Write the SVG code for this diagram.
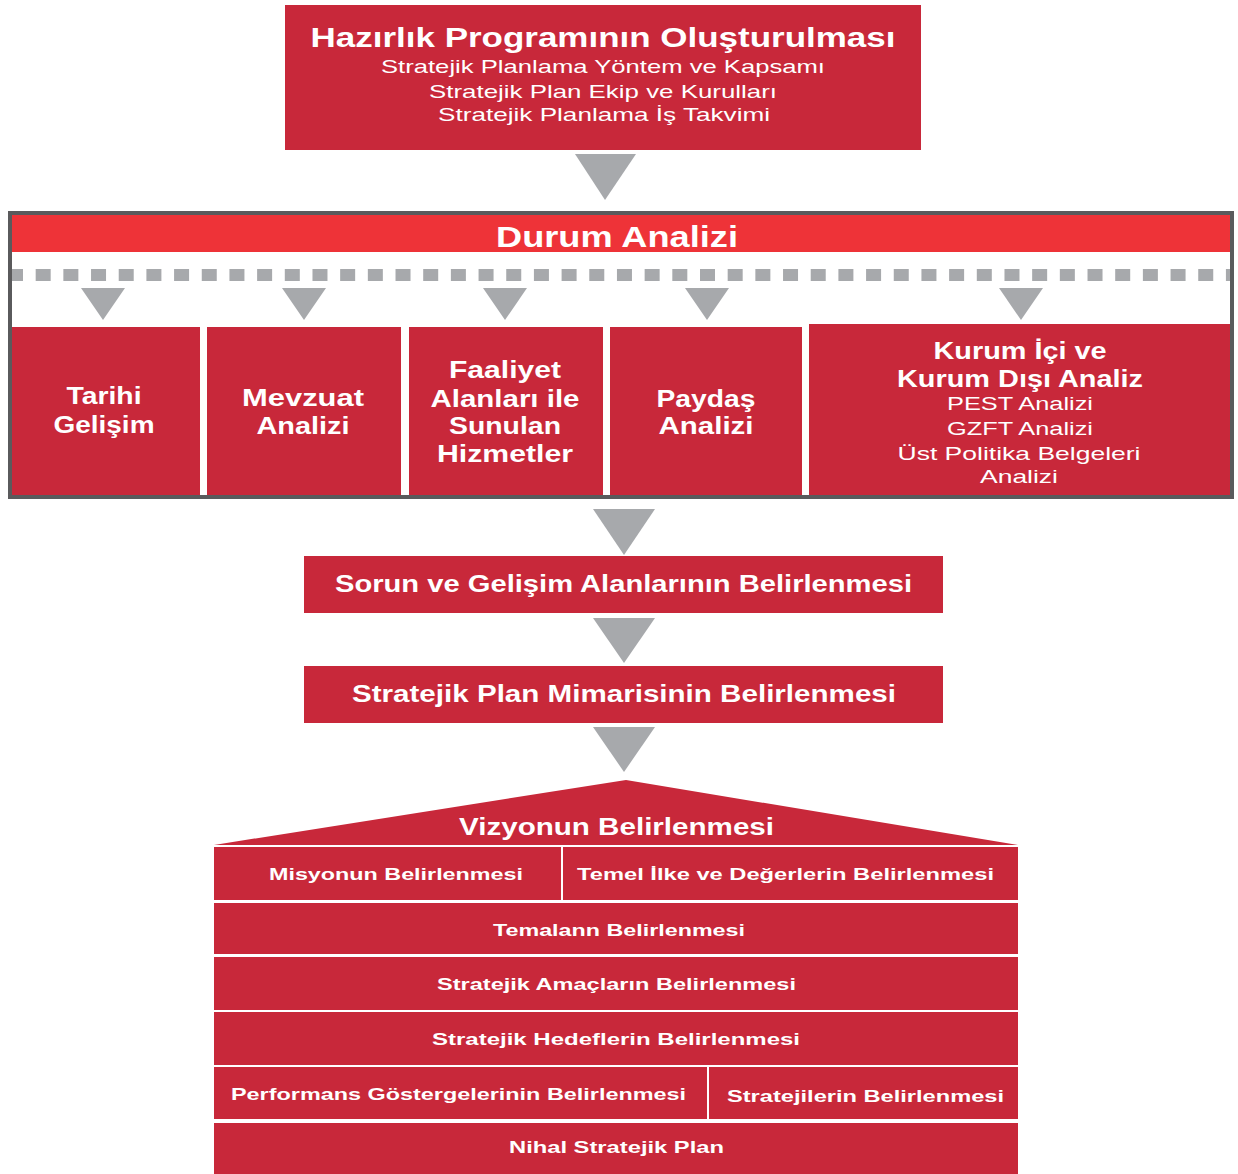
<svg xmlns="http://www.w3.org/2000/svg" width="1238" height="1174" viewBox="0 0 1238 1174">
<style>
.box{fill:#C8283A}
.hdr{fill:#EE3338}
.arr{fill:#A7A9AC}
text{fill:#ffffff;font-family:"Liberation Sans",Arial,sans-serif;text-anchor:middle}
.b{font-weight:bold}
.t27{font-size:27px}
.t29{font-size:29px}
.t24{font-size:24px}
.t23{font-size:23px}
.t19{font-size:19px}
.t17{font-size:17px}
</style>
<rect width="1238" height="1174" fill="#ffffff"/>

<g id="hazirlik">
<rect class="box" x="285" y="5" width="636" height="145"/>
<text class="b t27" x="603" y="47" textLength="585" lengthAdjust="spacingAndGlyphs">Hazırlık Programının Oluşturulması</text>
<text class="t19" x="603" y="73" textLength="444" lengthAdjust="spacingAndGlyphs">Stratejik Planlama Yöntem ve Kapsamı</text>
<text class="t19" x="603" y="98" textLength="348" lengthAdjust="spacingAndGlyphs">Stratejik Plan Ekip ve Kurulları</text>
<text class="t19" x="604" y="121" textLength="332" lengthAdjust="spacingAndGlyphs">Stratejik Planlama İş Takvimi</text>
</g>

<g id="durum-analizi">
<rect x="10" y="213" width="1222" height="284" fill="#ffffff" stroke="#5A5A5C" stroke-width="4"/>
<rect class="hdr" x="12" y="215" width="1218" height="37"/>
<text class="b t29" x="617" y="247" textLength="242" lengthAdjust="spacingAndGlyphs">Durum Analizi</text>
</g>

<g id="tarihi-gelisim">
<rect class="box" x="12" y="327" width="188" height="168"/>
<text class="b t24" x="104" y="404" textLength="75" lengthAdjust="spacingAndGlyphs">Tarihi</text>
<text class="b t24" x="104" y="433" textLength="101" lengthAdjust="spacingAndGlyphs">Gelişim</text>
</g>

<g id="mevzuat-analizi">
<rect class="box" x="207" y="327" width="194" height="168"/>
<text class="b t24" x="303" y="406" textLength="122" lengthAdjust="spacingAndGlyphs">Mevzuat</text>
<text class="b t24" x="303" y="434" textLength="93" lengthAdjust="spacingAndGlyphs">Analizi</text>
</g>

<g id="faaliyet-alanlari">
<rect class="box" x="409" y="327" width="194" height="168"/>
<text class="b t24" x="505" y="378" textLength="112" lengthAdjust="spacingAndGlyphs">Faaliyet</text>
<text class="b t24" x="505" y="407" textLength="149" lengthAdjust="spacingAndGlyphs">Alanları ile</text>
<text class="b t24" x="505" y="434" textLength="112" lengthAdjust="spacingAndGlyphs">Sunulan</text>
<text class="b t24" x="505" y="462" textLength="136" lengthAdjust="spacingAndGlyphs">Hizmetler</text>
</g>

<g id="paydas-analizi">
<rect class="box" x="610" y="327" width="192" height="168"/>
<text class="b t24" x="706" y="407" textLength="99" lengthAdjust="spacingAndGlyphs">Paydaş</text>
<text class="b t24" x="706" y="434" textLength="95" lengthAdjust="spacingAndGlyphs">Analizi</text>
</g>

<g id="kurum-ici-disi">
<rect class="box" x="809" y="324" width="421" height="171"/>
<text class="b t24" x="1020" y="359" textLength="173" lengthAdjust="spacingAndGlyphs">Kurum İçi ve</text>
<text class="b t24" x="1020" y="387" textLength="246" lengthAdjust="spacingAndGlyphs">Kurum Dışı Analiz</text>
<text class="t19" x="1020" y="410" textLength="146" lengthAdjust="spacingAndGlyphs">PEST Analizi</text>
<text class="t19" x="1020" y="435" textLength="146" lengthAdjust="spacingAndGlyphs">GZFT Analizi</text>
<text class="t19" x="1019" y="460" textLength="243" lengthAdjust="spacingAndGlyphs">Üst Politika Belgeleri</text>
<text class="t19" x="1019" y="483" textLength="78" lengthAdjust="spacingAndGlyphs">Analizi</text>
</g>

<g id="sorun-gelisim">
<rect class="box" x="304" y="556" width="639" height="57"/>
<text class="b t24" x="623.5" y="592" textLength="577" lengthAdjust="spacingAndGlyphs">Sorun ve Gelişim Alanlarının Belirlenmesi</text>
</g>

<g id="plan-mimarisi">
<rect class="box" x="304" y="666" width="639" height="57"/>
<text class="b t24" x="624" y="702" textLength="544" lengthAdjust="spacingAndGlyphs">Stratejik Plan Mimarisinin Belirlenmesi</text>
</g>

<g id="vizyon">
<polygon class="box" points="214,845 626,780 1018,845"/>
<text class="b t23" x="616.5" y="835" textLength="315" lengthAdjust="spacingAndGlyphs">Vizyonun Belirlenmesi</text>
</g>

<g id="misyon">
<rect class="box" x="214" y="847" width="347" height="53"/>
<text class="b t17" x="396" y="880" textLength="254" lengthAdjust="spacingAndGlyphs">Misyonun Belirlenmesi</text>
</g>

<g id="temel-ilke">
<rect class="box" x="563" y="847" width="455" height="53"/>
<text class="b t17" x="785.5" y="880" textLength="417" lengthAdjust="spacingAndGlyphs">Temel İlke ve Değerlerin Belirlenmesi</text>
</g>

<g id="temalar">
<rect class="box" x="214" y="903" width="804" height="51"/>
<text class="b t17" x="619" y="936" textLength="252" lengthAdjust="spacingAndGlyphs">Temalann Belirlenmesi</text>
</g>

<g id="amaclar">
<rect class="box" x="214" y="957" width="804" height="53"/>
<text class="b t17" x="616.5" y="990" textLength="359" lengthAdjust="spacingAndGlyphs">Stratejik Amaçların Belirlenmesi</text>
</g>

<g id="hedefler">
<rect class="box" x="214" y="1012" width="804" height="53"/>
<text class="b t17" x="616" y="1045" textLength="368" lengthAdjust="spacingAndGlyphs">Stratejik Hedeflerin Belirlenmesi</text>
</g>

<g id="performans">
<rect class="box" x="214" y="1067" width="493" height="52"/>
<text class="b t17" x="458.5" y="1100" textLength="455" lengthAdjust="spacingAndGlyphs">Performans Göstergelerinin Belirlenmesi</text>
</g>

<g id="stratejiler">
<rect class="box" x="709" y="1067" width="309" height="52"/>
<text class="b t17" x="865.5" y="1102" textLength="277" lengthAdjust="spacingAndGlyphs">Stratejilerin Belirlenmesi</text>
</g>

<g id="nihai-plan">
<rect class="box" x="214" y="1123" width="804" height="51"/>
<text class="b t17" x="616.5" y="1153" textLength="215" lengthAdjust="spacingAndGlyphs">Nihal Stratejik Plan</text>
</g>

<g id="connectors">
<line x1="12" y1="275" x2="1230" y2="275" stroke="#A7A9AC" stroke-width="12" stroke-dasharray="15 12.68" stroke-dashoffset="4"/>
<polygon class="arr" points="575,154 636,154 605,200"/>
<polygon class="arr" points="81,288 125,288 103,320"/>
<polygon class="arr" points="282,288 326,288 304,320"/>
<polygon class="arr" points="483,288 527,288 505,320"/>
<polygon class="arr" points="685,288 729,288 707,320"/>
<polygon class="arr" points="999,288 1043,288 1021,320"/>
<polygon class="arr" points="593,509 655,509 624,555"/>
<polygon class="arr" points="593,618 655,618 624,663"/>
<polygon class="arr" points="593,727 655,727 624,772"/>
</g>
</svg>
